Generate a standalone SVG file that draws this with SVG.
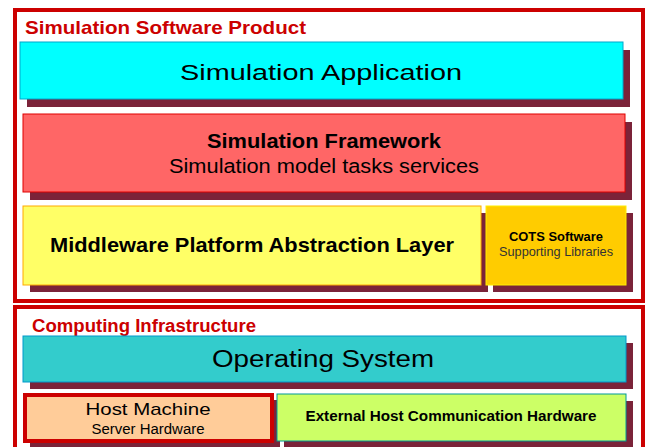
<svg xmlns="http://www.w3.org/2000/svg" width="648" height="447" viewBox="0 0 648 447">
<style>
text{font-family:"Liberation Sans",Arial,sans-serif;fill:#000}
.b{font-weight:bold}
.title{font-weight:bold;fill:#CC0000}
.frame{fill:none;stroke:#CC0000;stroke-width:4}
.sh{fill:#7B2339}
</style>
<rect width="648" height="447" fill="#fff"/>
<g id="frame-software">
<rect class="frame" x="15" y="10" width="628" height="291"/>
<text class="title" x="25" y="34" font-size="19" textLength="281" lengthAdjust="spacingAndGlyphs">Simulation Software Product</text>
</g>
<g id="frame-infra">
<rect class="frame" x="15" y="307" width="628" height="160"/>
<text class="title" x="32" y="332" font-size="18" textLength="224" lengthAdjust="spacingAndGlyphs">Computing Infrastructure</text>
</g>
<g id="sim-app">
<rect class="sh" x="27" y="50" width="603" height="57"/>
<rect x="20" y="42" width="603" height="57" fill="#00FFFF" stroke="#00A8CC" stroke-width="1"/>
<text x="321" y="80" font-size="22" text-anchor="middle" textLength="282" lengthAdjust="spacingAndGlyphs">Simulation Application</text>
</g>
<g id="sim-framework">
<rect class="sh" x="30" y="122" width="602" height="78"/>
<rect x="23" y="114" width="602" height="78" fill="#FF6666" stroke="#E00000" stroke-width="1"/>
<text class="b" x="324" y="148" font-size="20" text-anchor="middle" textLength="234" lengthAdjust="spacingAndGlyphs">Simulation Framework</text>
<text x="324" y="173" font-size="20" text-anchor="middle" textLength="310" lengthAdjust="spacingAndGlyphs">Simulation model tasks services</text>
</g>
<g id="middleware">
<rect class="sh" x="30" y="213" width="458" height="79"/>
<rect x="23" y="206" width="458" height="79" fill="#FFFF66" stroke="#FFAA00" stroke-width="1"/>
<text class="b" x="252" y="252" font-size="21" text-anchor="middle" textLength="404" lengthAdjust="spacingAndGlyphs">Middleware Platform Abstraction Layer</text>
</g>
<g id="cots">
<rect class="sh" x="493" y="213" width="140" height="79"/>
<rect x="486" y="206" width="140" height="79" fill="#FFCC00" stroke="#FFEE00" stroke-width="1"/>
<text class="b" x="556" y="241" font-size="12.5" text-anchor="middle" textLength="94" lengthAdjust="spacingAndGlyphs">COTS Software</text>
<text x="556" y="256" font-size="12.5" text-anchor="middle" fill="#333" style="fill:#333" textLength="114" lengthAdjust="spacingAndGlyphs">Supporting Libraries</text>
</g>
<g id="os">
<rect class="sh" x="30" y="343" width="603" height="46"/>
<rect x="23" y="336" width="603" height="46" fill="#33CCCC" stroke="#0099CC" stroke-width="1"/>
<text x="323" y="367" font-size="23" text-anchor="middle" textLength="222" lengthAdjust="spacingAndGlyphs">Operating System</text>
</g>
<g id="host">
<rect class="sh" x="30" y="400" width="250" height="50"/>
<rect x="25" y="395" width="247" height="46" fill="#FFCC99" stroke="#CC0000" stroke-width="4"/>
<text x="148" y="415" font-size="17" text-anchor="middle" textLength="125" lengthAdjust="spacingAndGlyphs">Host Machine</text>
<text x="148" y="434" font-size="14" text-anchor="middle" textLength="113" lengthAdjust="spacingAndGlyphs">Server Hardware</text>
</g>
<g id="external">
<rect class="sh" x="284" y="401" width="349" height="50"/>
<rect x="277" y="394" width="349" height="47" fill="#CCFF66" stroke="#009999" stroke-width="1"/>
<text class="b" x="451" y="421" font-size="14.5" text-anchor="middle" textLength="291" lengthAdjust="spacingAndGlyphs">External Host Communication Hardware</text>
</g>
<g id="connectors"/>
</svg>
